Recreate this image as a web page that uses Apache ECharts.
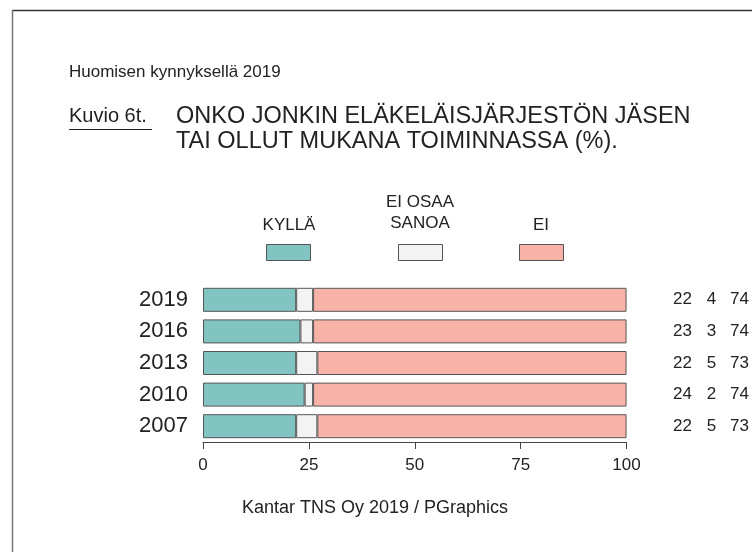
<!DOCTYPE html>
<html>
<head>
<meta charset="utf-8">
<script src="https://cdn.jsdelivr.net/npm/echarts@6/dist/echarts.min.js"></script>
<style>
html, body { margin: 0; padding: 0; background: #fff; }
#chart { width: 752px; height: 552px; }
</style>
</head>
<body>
<div id="chart"></div>
<script>
// vuodet ja osuudet (%)
var years = ['2019', '2016', '2013', '2010', '2007'];
var kylla = [22, 23, 22, 24, 22];
var eiOsaa = [4, 3, 5, 2, 5];
var ei = [74, 74, 73, 74, 73];
var xTicks = [0, 25, 50, 75, 100];

var colKylla = '#82c4c2';
var colEiOsaa = '#f3f3f3';
var colEi = '#f8b3a8';
var edge = '#555555';
var font = 'Liberation Sans, Arial, sans-serif';

var chart = echarts.init(document.getElementById('chart'));

function valueAxis(arr, margin) {
    return {
        type: 'category',
        position: 'right',
        inverse: true,
        data: arr.map(String),
        axisLine: {show: false},
        axisTick: {show: false},
        axisLabel: {margin: margin, align: 'center', fontSize: 17, color: '#222', fontFamily: font}
    };
}

function legendBox(name, x) {
    return {
        data: [name],
        left: x,
        top: 239,
        itemWidth: 44,
        itemHeight: 16,
        formatter: function () { return ''; },
        icon: 'rect',
        selectedMode: false,
        itemStyle: {borderColor: edge, borderWidth: 1}
    };
}

var option = {
    animation: false,
    backgroundColor: '#fff',
    grid: {left: 203, right: 124, top: 284, height: 158},
    legend: [
        legendBox('KYLLÄ', 261),
        legendBox('EI OSAA SANOA', 393),
        legendBox('EI', 514)
    ],
    xAxis: {
        type: 'value',
        min: 0,
        max: 100,
        interval: 25,
        axisLine: {show: true, lineStyle: {color: '#444', width: 1}},
        axisTick: {show: true, length: 7, lineStyle: {color: '#444'}},
        axisLabel: {
            fontSize: 17, color: '#222', margin: 15, fontFamily: font,
            formatter: function (v) { return xTicks.indexOf(v) >= 0 ? String(v) : ''; }
        },
        splitLine: {show: false}
    },
    yAxis: [
        {
            type: 'category',
            inverse: true,
            data: years,
            axisLine: {show: false},
            axisTick: {show: false},
            axisLabel: {margin: 15, fontSize: 22, color: '#222', fontFamily: font}
        },
        valueAxis(kylla, 56),
        valueAxis(eiOsaa, 85),
        valueAxis(ei, 113)
    ],
    series: [
        {name: 'KYLLÄ', type: 'bar', stack: 'a', data: kylla, barWidth: 24,
         itemStyle: {color: colKylla, borderColor: edge, borderWidth: 1}},
        {name: 'EI OSAA SANOA', type: 'bar', stack: 'a', data: eiOsaa, barWidth: 24,
         itemStyle: {color: colEiOsaa, borderColor: edge, borderWidth: 1}},
        {name: 'EI', type: 'bar', stack: 'a', data: ei, barWidth: 24,
         itemStyle: {color: colEi, borderColor: edge, borderWidth: 1}}
    ],
    graphic: [
        // kehys
        {type: 'line', shape: {x1: 12, y1: 10.5, x2: 752, y2: 10.5}, style: {stroke: '#333', lineWidth: 1.5}},
        {type: 'line', shape: {x1: 12.5, y1: 10, x2: 12.5, y2: 552}, style: {stroke: '#777', lineWidth: 1.5}},
        {type: 'text', left: 69, top: 64, style: {text: 'Huomisen kynnyksellä 2019', fontSize: 17, fill: '#222', fontFamily: font}},
        {type: 'text', left: 69, top: 106, style: {text: 'Kuvio 6t.', fontSize: 20, fill: '#222', fontFamily: font}},
        {type: 'line', shape: {x1: 69, y1: 129.5, x2: 152, y2: 129.5}, style: {stroke: '#222', lineWidth: 1.2}},
        {type: 'text', left: 176, top: 104, style: {text: 'ONKO JONKIN ELÄKELÄISJÄRJESTÖN JÄSEN\nTAI OLLUT MUKANA TOIMINNASSA (%).', fontSize: 23.5, lineHeight: 25, fill: '#222', fontFamily: font}},
        {type: 'text', x: 289, y: 234, style: {text: 'KYLLÄ', fontSize: 17, fill: '#222', align: 'center', verticalAlign: 'bottom', fontFamily: font}},
        {type: 'text', x: 420, y: 234, style: {text: 'EI OSAA\nSANOA', fontSize: 17, lineHeight: 21, fill: '#222', align: 'center', verticalAlign: 'bottom', fontFamily: font}},
        {type: 'text', x: 541, y: 234, style: {text: 'EI', fontSize: 17, fill: '#222', align: 'center', verticalAlign: 'bottom', fontFamily: font}},
        {type: 'text', x: 375, y: 508, style: {text: 'Kantar TNS Oy 2019 / PGraphics', fontSize: 18, fill: '#222', align: 'center', verticalAlign: 'middle', fontFamily: font}}
    ]
};

chart.setOption(option);
</script>
</body>
</html>
